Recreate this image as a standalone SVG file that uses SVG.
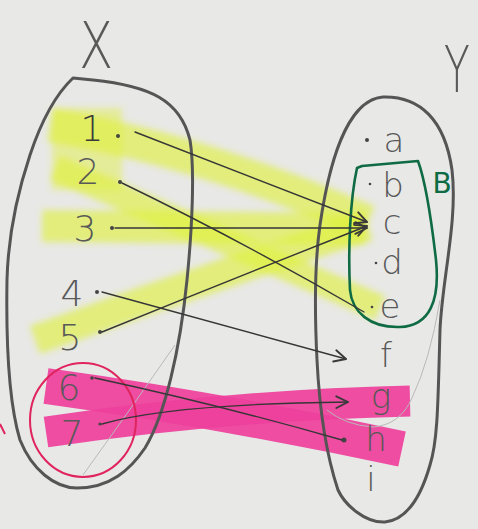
<svg xmlns="http://www.w3.org/2000/svg" width="478" height="529" viewBox="0 0 478 529">
<defs>
<marker id="arr" viewBox="0 0 12 12" refX="11" refY="6" markerWidth="14" markerHeight="14" markerUnits="userSpaceOnUse" orient="auto">
<path d="M1,1 L11,6 L1,11" fill="none" stroke="#3a3a3a" stroke-width="1.6" stroke-linecap="round" stroke-linejoin="round"/>
</marker>
<filter id="soft" x="-10%" y="-10%" width="120%" height="120%"><feGaussianBlur stdDeviation="3"/></filter>
</defs>
<style>
.bg{fill:#e8e8e6}
.set{fill:none;stroke:#555;stroke-width:3;stroke-linejoin:round}
.yb{fill:none;stroke:#dff03c;stroke-opacity:0.62;stroke-linecap:butt}
.pb{fill:none;stroke:#ee3f9c;stroke-opacity:0.92;stroke-linecap:butt}
.ln{fill:none;stroke:#363636;stroke-width:1.4;stroke-linecap:round}
.dot{fill:#444}
.lbl{font-family:"DejaVu Sans","Liberation Sans",sans-serif;font-weight:200;fill:#595959;text-anchor:middle}
.num{font-size:36px}
.let{font-size:34px}
.big{font-size:64px}
.faint{fill:none;stroke:#b9b9b9;stroke-width:1}
</style>
<rect class="bg" x="0" y="0" width="478" height="529"/>

<g id="highlights">
<g filter="url(#soft)">
<path class="yb" d="M50,125 Q200,150 368,222" stroke-width="34"/>
<path class="yb" d="M55,168 Q200,230 380,308" stroke-width="26"/>
<path class="yb" d="M42,226 L365,229" stroke-width="32"/>
<path class="yb" d="M35,340 Q200,280 368,226" stroke-width="30"/>
<rect x="52" y="108" width="70" height="82" fill="#dff03c" fill-opacity="0.45"/>
</g>
<path class="pb" d="M46,386 Q220,410 402,449" stroke-width="36"/>
<path class="pb" d="M46,432 Q230,405 410,401" stroke-width="31"/>
</g>

<g id="faint-lines">
<path class="faint" d="M83,475 Q130,410 175,345"/>
<path class="faint" d="M327,410 Q345,425 373,427 Q400,425 412,398 Q430,360 440,300"/>
</g>

<g id="set-X">
<path class="set" d="M73,78 C55,95 40,125 30,155 C15,200 8,240 7,280 C6,340 8,400 20,440 C32,470 55,488 77,488 C110,488 130,470 145,448 C165,415 180,350 187,280 C192,230 195,170 190,140 C180,100 150,86 93,80 L73,78 Z"/>
<text class="lbl big" x="96" y="68" transform="translate(96 0) scale(0.78 1) translate(-96 0)">X</text>
</g>

<g id="set-Y">
<path class="set" d="M383,97 C420,96 445,120 452,170 C458,220 442,280 440,330 C438,400 438,440 430,465 C420,500 405,520 385,522 C365,523 345,505 338,490 C328,460 320,420 317,360 C314,300 315,260 320,225 C328,170 345,100 383,97 Z"/>
<text class="lbl big" x="457" y="92" transform="translate(457 0) scale(0.66 1) translate(-457 0)">Y</text>
</g>

<g id="subset-B">
<path fill="none" stroke="#0f6b44" stroke-width="2.6" stroke-linejoin="round" d="M357,168 L362,166 L418,161 C425,180 432,225 436,260 C440,300 430,326 400,327 C370,328 352,312 350,290 C348,250 350,200 357,168 Z"/>
<text class="lbl" x="442" y="193" style="font-size:28px;fill:#0f6b44;font-weight:normal">B</text>
</g>

<g id="circle-67">
<ellipse cx="83" cy="420" rx="53" ry="57" fill="none" stroke="#e0245e" stroke-width="2"/>
<path d="M0,424 L5,434" stroke="#e0245e" stroke-width="2" fill="none"/>
</g>

<g id="x-elements">
<g id="x1"><text class="lbl num" x="92" y="141" style="fill:#3a3a3a">1</text><circle class="dot" cx="118" cy="136" r="2"/></g>
<g id="x2"><text class="lbl num" x="88" y="184">2</text><circle class="dot" cx="120" cy="182" r="2"/></g>
<g id="x3"><text class="lbl num" x="85" y="241">3</text><circle class="dot" cx="112" cy="228" r="2"/></g>
<g id="x4"><text class="lbl num" x="72" y="306">4</text><circle class="dot" cx="97" cy="292" r="2"/></g>
<g id="x5"><text class="lbl num" x="70" y="350">5</text><circle class="dot" cx="100" cy="332" r="2"/></g>
<g id="x6"><text class="lbl num" x="69" y="400">6</text><circle class="dot" cx="92" cy="378" r="1.8"/></g>
<g id="x7"><text class="lbl num" x="72" y="446">7</text><circle class="dot" cx="100" cy="424" r="1.6"/></g>
</g>

<g id="y-elements">
<g id="ya"><text class="lbl let" x="394" y="152">a</text><circle class="dot" cx="367" cy="140" r="2"/></g>
<g id="yb"><text class="lbl let" x="393" y="197">b</text><circle class="dot" cx="370" cy="184" r="1.3"/></g>
<g id="yc"><text class="lbl let" x="392" y="234">c</text></g>
<g id="yd"><text class="lbl let" x="392" y="274">d</text><circle class="dot" cx="376" cy="263" r="1.3"/></g>
<g id="ye"><text class="lbl let" x="390" y="318">e</text><circle class="dot" cx="372" cy="307" r="1.3"/></g>
<g id="yf"><text class="lbl let" x="386" y="367">f</text></g>
<g id="yg"><text class="lbl let" x="381" y="408">g</text></g>
<g id="yh"><text class="lbl let" x="376" y="451">h</text><circle class="dot" cx="344" cy="440" r="2.5"/></g>
<g id="yi"><text class="lbl let" x="371" y="491">i</text></g>
</g>

<g id="connectors">
<path class="ln" d="M135,132 L367,222" marker-end="url(#arr)"/>
<path class="ln" d="M122,183 Q240,240 364,312"/>
<path class="ln" d="M115,228 L367,228" marker-end="url(#arr)"/>
<path class="ln" d="M102,292 L346,359" marker-end="url(#arr)"/>
<path class="ln" d="M102,332 Q230,280 367,226" marker-end="url(#arr)"/>
<path class="ln" d="M95,378 Q220,405 342,440"/>
<path class="ln" d="M102,424 Q170,404 348,402" marker-end="url(#arr)"/>
</g>
</svg>
